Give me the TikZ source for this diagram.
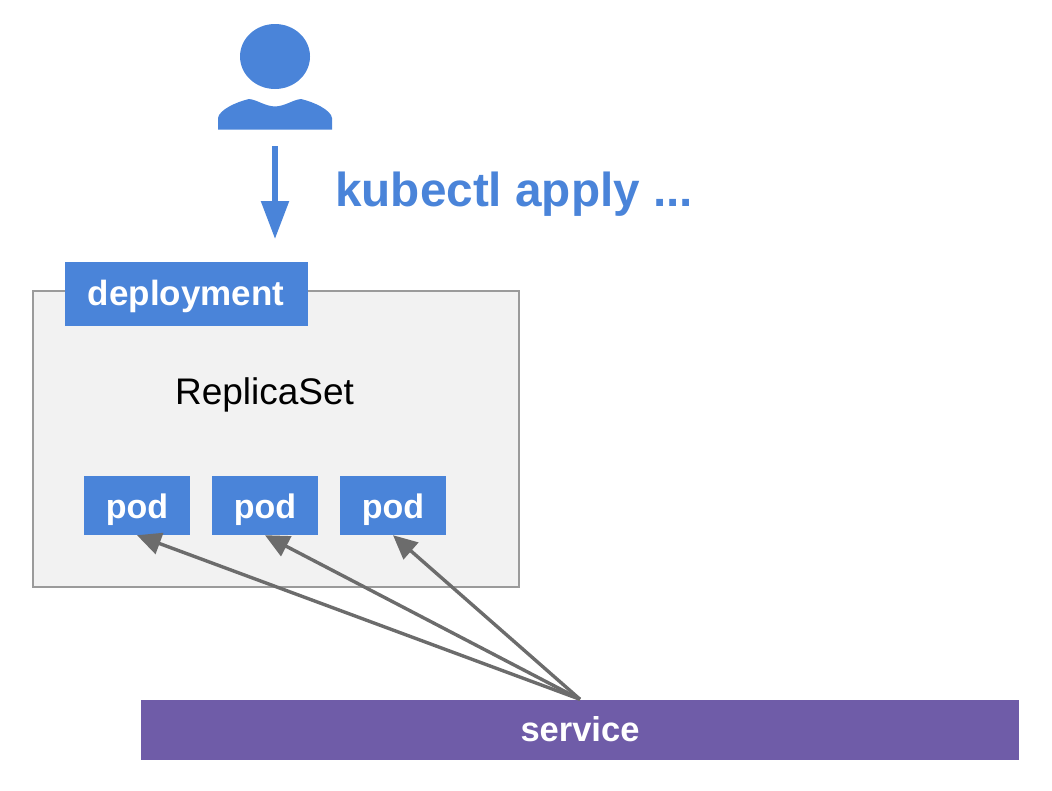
\documentclass[tikz,border=0pt]{standalone}
\usepackage{fontspec}
\setmainfont{Liberation Sans}
\usetikzlibrary{arrows.meta}
\definecolor{gblue}{HTML}{4A84D9}
\definecolor{gpurple}{HTML}{6F5CA8}
\definecolor{gpanel}{HTML}{F2F2F2}
\definecolor{gedge}{HTML}{9B9B9B}
\definecolor{garrow}{HTML}{6C6C6C}
\tikzset{
  px/.style={x=1pt,y=-1pt},
  bluebox/.style={fill=gblue,text=white,inner sep=0pt,anchor=center},
  podbox/.style={bluebox,font=\fontsize{34}{40}\selectfont\bfseries,minimum width=106pt,minimum height=59pt,text height=30pt,text depth=5pt},
  linkarrow/.style={draw=garrow,line width=3.4pt,-{Triangle[length=24pt,width=22pt]}}
}
\begin{document}
\begin{tikzpicture}[px]
\useasboundingbox (0,0) rectangle (1052,790);
% person
\fill[gblue] (275,56.5) ellipse [x radius=35, y radius=32.5];
\fill[gblue] (218,129.5) -- (218,118) .. controls (219,110) and (236,102) .. (249,99)
  .. controls (258,100) and (264,106) .. (275,106.5)
  .. controls (286,106) and (292,100) .. (301,99)
  .. controls (314,102) and (331,110) .. (332,118) -- (332,129.5) -- cycle;
\coordinate (userbase) at (275,146);
\coordinate (applytip) at (275,239);
\draw[draw=gblue,line width=5.5pt,-{Triangle[length=38pt,width=27pt]}] (userbase) -- (applytip);
\node[anchor=west,inner sep=0pt,text=gblue,font=\fontsize{47.7}{50}\selectfont\bfseries] (apply) at (335,194) {kubectl apply ...};
% replica set panel
\node[draw=gedge,fill=gpanel,line width=2pt,minimum width=486pt,minimum height=296pt,inner sep=0pt] (panel) at (276,438.5) {};
\node[bluebox,font=\fontsize{35}{40}\selectfont\bfseries,minimum width=243pt,minimum height=64pt,text height=28pt,text depth=5pt] (deploy) at (186,293.5) {deployment};
\node[font=\fontsize{37}{40}\selectfont,inner sep=0pt] (rs) at (264.5,395) {ReplicaSet};
\node[podbox] (pod1) at (137,505.5) {pod};
\node[podbox] (pod2) at (265,505.5) {pod};
\node[podbox] (pod3) at (393,505.5) {pod};
% service
\node[fill=gpurple,text=white,font=\fontsize{34.5}{40}\selectfont\bfseries,minimum width=878pt,minimum height=60pt,inner sep=0pt] (service) at (580,729.5) {service};
\draw[linkarrow] (service.north) -- (pod1.south);
\draw[linkarrow] (service.north) -- (pod2.south);
\draw[linkarrow] (service.north) -- (pod3.south);
\end{tikzpicture}
\end{document}
